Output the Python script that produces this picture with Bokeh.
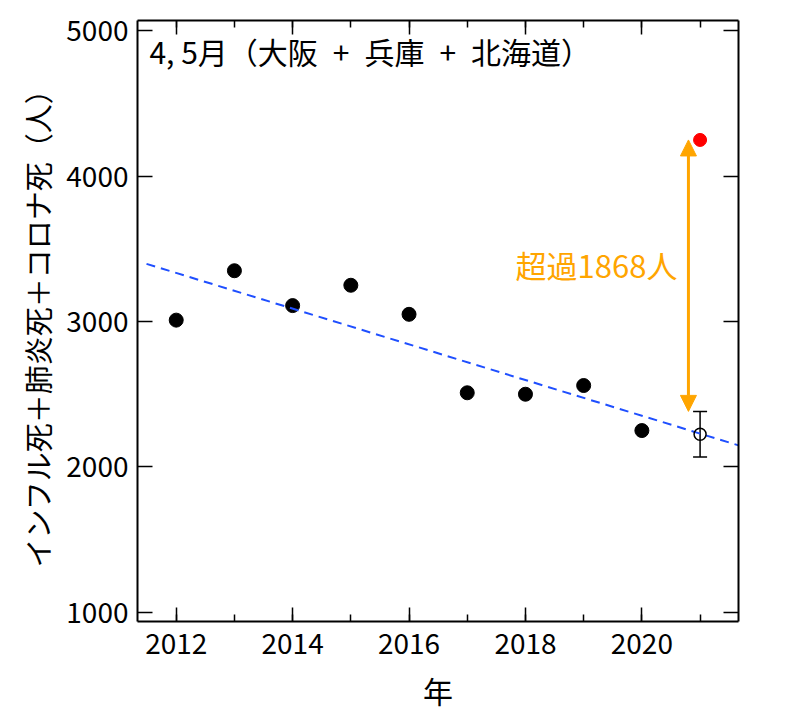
import numpy as np
from bokeh.plotting import figure
from bokeh.models import (Range1d, LinearAxis, SingleIntervalTicker, Label, Arrow,
                          NormalHead, Whisker, TeeHead, ColumnDataSource, CustomLabelingPolicy)
from bokeh.embed import file_html
from bokeh.resources import INLINE

# ---- data ----
years = [2012, 2013, 2014, 2015, 2016, 2017, 2018, 2019, 2020]
deaths = [3010, 3350, 3110, 3250, 3050, 2510, 2500, 2560, 2250]
year_2021 = [2021]
actual_2021 = [4250]
expected_2021 = [2225]
upper_2021 = [2382]
lower_2021 = [2068]
excess_label = "超過1868人"
title_text = "4, 5月（大阪\u2002+\u2002兵庫\u2002+\u2002北海道）"
x_label = "年"
y_label = "インフル死＋肺炎死＋コロナ死（人）"

FONT = "Noto Sans CJK JP"

p = figure(width=784, height=705, output_backend="svg", toolbar_location=None,
           x_range=Range1d(2011.335, 2021.66), y_range=Range1d(936, 5072),
           min_border_left=137, min_border_right=46, min_border_top=20, min_border_bottom=84)
p.frame_width = 601
p.frame_height = 601
p.grid.visible = False
p.outline_line_color = None
p.background_fill_color = "white"

xt = SingleIntervalTicker(interval=2, num_minor_ticks=2)
yt = SingleIntervalTicker(interval=1000, num_minor_ticks=0)
p.xaxis.ticker = xt
p.yaxis.ticker = yt

no_labels = CustomLabelingPolicy(code="""
    const n = indices.size
    for (let i = 0; i < n; i++) { indices.unset(i) }
    return indices
""")

def style_axis(ax):
    ax.axis_line_width = 2
    ax.axis_line_color = "black"
    ax.major_tick_in = 14
    ax.major_tick_out = 0
    ax.minor_tick_in = 7
    ax.minor_tick_out = 0
    ax.major_tick_line_width = 1.5
    ax.minor_tick_line_width = 1.5
    ax.major_tick_line_color = "black"
    ax.minor_tick_line_color = "black"
    ax.major_label_text_font = FONT
    ax.major_label_text_font_size = "28px"
    ax.major_label_text_color = "black"
    ax.axis_label_text_font = FONT
    ax.axis_label_text_font_style = "normal"
    ax.axis_label_text_color = "black"

for ax in p.xaxis:
    style_axis(ax)
    ax.major_label_standoff = 11
    ax.axis_label = x_label
    ax.axis_label_text_font_size = "30px"
    ax.axis_label_standoff = 11
for ax in p.yaxis:
    style_axis(ax)
    ax.major_tick_in = 15
    ax.major_label_standoff = 9
    ax.axis_label = y_label
    ax.axis_label_text_font_size = "29px"
    ax.axis_label_standoff = 5

top = LinearAxis(ticker=xt, major_label_policy=no_labels)
style_axis(top)
top.major_label_text_font_size = "0px"
top.major_label_standoff = 0
p.add_layout(top, "above")
right = LinearAxis(ticker=yt, major_label_policy=no_labels)
style_axis(right)
right.major_label_text_font_size = "0px"
right.major_label_standoff = 0
right.major_tick_in = 15
p.add_layout(right, "right")

# historical points
p.scatter(years, deaths, size=14, color="black")

# trend line (least squares fit of the historical data)
coef = np.polyfit(years, deaths, 1)
xs = np.array([2011.49, 2021.66])
p.line(xs, np.polyval(coef, xs), line_color="#1f4fff", line_width=2, line_dash="9 6")

# expected 2021 with interval
src = ColumnDataSource(dict(x=year_2021, upper=upper_2021, lower=lower_2021))
p.add_layout(Whisker(source=src, base="x", upper="upper", lower="lower",
                     line_color="black", line_width=1.5,
                     upper_head=TeeHead(size=14, line_width=1.5, line_color="black"),
                     lower_head=TeeHead(size=14, line_width=1.5, line_color="black")))
p.scatter(year_2021, expected_2021, size=12, fill_color=None, line_color="black", line_width=1.5)

# actual 2021
p.scatter(year_2021, actual_2021, size=13, color="red")

# excess arrow
ax_x = year_2021[0] - 0.2
p.add_layout(Arrow(x_start=ax_x, y_start=upper_2021[0], x_end=ax_x, y_end=actual_2021[0],
                   line_color="orange", line_width=3,
                   start=NormalHead(size=16, fill_color="orange", line_color="orange"),
                   end=NormalHead(size=16, fill_color="orange", line_color="orange")))
p.add_layout(Label(x=ax_x - 0.19, y=3390, text=excess_label, text_align="right",
                   text_baseline="middle", text_color="orange",
                   text_font=FONT, text_font_size="31px"))

# panel title
p.add_layout(Label(x=2011.54, y=4865, text=title_text, text_align="left",
                   text_baseline="middle", text_color="black",
                   text_font=FONT, text_font_size="30px"))

open("out.html", "w").write(file_html(p, INLINE))
